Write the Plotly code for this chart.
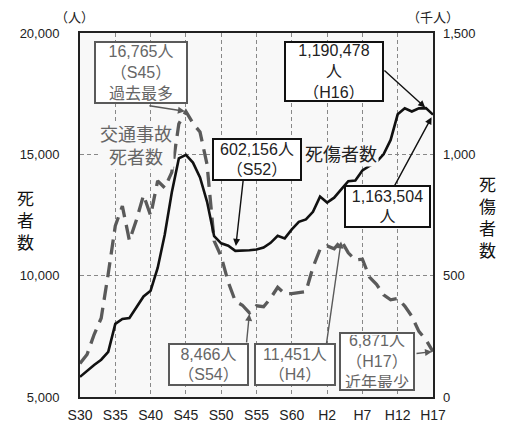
import plotly.graph_objects as go

years = list(range(1955, 2006))
deaths = [6379, 6751, 7575, 8248, 10079, 12055, 12865, 11445, 12301, 13318,
          12484, 13904, 13618, 14256, 16257, 16765, 16278, 15918, 14574, 11432,
          10792, 9734, 8945, 8783, 8466, 8760, 8719, 9073, 9520, 9262,
          9261, 9317, 9347, 10344, 11086, 11227, 11109, 11451, 10942, 10649,
          10679, 9942, 9640, 9211, 9006, 9066, 8747, 8326, 7702, 7358, 6871]
casualties_k = [82.9, 108.8, 132.1, 153.7, 186.0, 301.2, 321.6, 325.3, 371.4, 414.4,
                438.2, 531.7, 669.0, 842.3, 983.3, 997.9, 966.0, 905.1, 804.5, 662.9,
                633.3, 623.7, 602.156, 602.9, 604.7, 607.5, 616.1, 635.3, 664.3, 653.6,
                690.6, 721.6, 731.5, 763.2, 825.9, 801.5, 821.4, 855.5, 889.6, 892.4,
                933.4, 952.1, 968.6, 999.9, 1059.4, 1164.8, 1189.8, 1176.4, 1189.4, 1190.478, 1163.504]

tick_years = [1955, 1960, 1965, 1970, 1975, 1980, 1985, 1990, 1995, 2000, 2005]
tick_labels = ["S30", "S35", "S40", "S45", "S50", "S55", "S60", "H2", "H7", "H12", "H17"]

FONT = "Liberation Sans, Arial, Noto Sans CJK JP"
GRAY = "#5a5a5a"
TGRAY = "#666666"

fig = go.Figure()
fig.add_trace(go.Scatter(x=years, y=deaths, mode="lines", name="交通事故死者数",
                         line=dict(color=GRAY, width=3.3, dash="15px,8px"), yaxis="y"))
fig.add_trace(go.Scatter(x=years, y=casualties_k, mode="lines", name="死傷者数",
                         line=dict(color="#111111", width=2.6), yaxis="y2"))

anns = []

def box(text, x, y, w, h, color, tcolor):
    anns.append(dict(text=text, xref="paper", yref="paper", x=x, y=y,
                     xanchor="center", yanchor="middle", showarrow=False,
                     width=w, height=h, bgcolor="white", bordercolor=color,
                     borderwidth=2, borderpad=1,
                     font=dict(family=FONT, size=16, color=tcolor)))

def arrow(year, value, yref, ax, ay, color, standoff=0):
    anns.append(dict(text="", xref="x", yref=yref, x=year, y=value,
                     ax=ax, ay=ay, showarrow=True, arrowhead=2, arrowsize=1,
                     arrowwidth=1.4, arrowcolor=color, standoff=standoff))

def idx(y):
    return years.index(y)

# arrows
arrow(1970, deaths[idx(1970)], "y", -38, -6, GRAY, 1)
arrow(1977, casualties_k[idx(1977)], "y2", 8, -72, "#111111", 5)
arrow(2004, casualties_k[idx(2004)], "y2", -43, -39, "#111111", 1)
arrow(2005, casualties_k[idx(2005)], "y2", -40, 74, "#111111", 3)
arrow(1979, deaths[idx(1979)], "y", -3, 31, GRAY, 1)
arrow(1992, deaths[idx(1992)], "y", -15, 105, GRAY, 1)
arrow(2005, deaths[idx(2005)], "y", -18, 2, GRAY, 1)

# boxes
box("16,765人<br>（S45）<br>過去最多", 0.1728, 0.8905, 88, 57, GRAY, TGRAY)
box("602,156人<br>（S52）", 0.5014, 0.6527, 84, 37, "#111111", "#222222")
box("1,190,478<br>人<br>（H16）", 0.7195, 0.8932, 94, 55, "#111111", "#222222")
box("1,163,504<br>人", 0.8711, 0.5230, 81, 37, "#111111", "#222222")
box("8,466人<br>（S54）", 0.3640, 0.0905, 75, 37, GRAY, TGRAY)
box("11,451人<br>（H4）", 0.6091, 0.0905, 76, 37, GRAY, TGRAY)
box("6,871人<br>（H17）<br>近年最少", 0.8414, 0.0986, 70, 53, GRAY, TGRAY)

# series labels
anns.append(dict(text="交通事故<br>死者数", xref="paper", yref="paper", x=0.1586, y=0.6892,
                 xanchor="center", yanchor="middle", showarrow=False, bgcolor="#f8f8f8",
                 font=dict(family=FONT, size=18, color=TGRAY)))
anns.append(dict(text="死傷者数", xref="paper", yref="paper", x=0.7380, y=0.6649,
                 xanchor="center", yanchor="middle", showarrow=False, bgcolor="#f8f8f8",
                 font=dict(family=FONT, size=18, color="#222222")))

# units and axis titles
anns.append(dict(text="（人）", xref="paper", yref="paper", x=-0.0142, y=1.0432,
                 xanchor="center", yanchor="middle", showarrow=False,
                 font=dict(family=FONT, size=13, color="#222222")))
anns.append(dict(text="（千人）", xref="paper", yref="paper", x=1.0, y=1.0432,
                 xanchor="center", yanchor="middle", showarrow=False,
                 font=dict(family=FONT, size=13, color="#222222")))
anns.append(dict(text="死<br>者<br>数", xref="paper", yref="paper", x=-0.1558, y=0.4811,
                 xanchor="center", yanchor="middle", showarrow=False,
                 font=dict(family=FONT, size=17, color="#111111")))
anns.append(dict(text="死<br>傷<br>者<br>数", xref="paper", yref="paper", x=1.153, y=0.4892,
                 xanchor="center", yanchor="middle", showarrow=False,
                 font=dict(family=FONT, size=17, color="#111111")))

# the page body adds an 8px offset, so the figure is sized to compensate
fig.update_layout(
    width=497, height=427,
    margin=dict(l=72, r=72, t=25, b=32),
    paper_bgcolor="white", plot_bgcolor="#f8f8f8",
    showlegend=False,
    font=dict(family=FONT, size=13, color="#222222"),
    xaxis=dict(range=[1955, 2005], tickvals=tick_years, ticktext=tick_labels,
               showgrid=True, gridcolor="#888888", griddash="4px,3px", gridwidth=1,
               showline=True, linecolor="#222222", linewidth=2, mirror=True,
               ticks="", ticklabelstandoff=4, zeroline=False,
               tickfont=dict(family=FONT, size=14, color="#222222")),
    yaxis=dict(range=[5000, 20000], tickvals=[5000, 10000, 15000, 20000],
               ticktext=["5,000", "10,000", "15,000", "20,000"],
               showgrid=True, gridcolor="#888888", griddash="4px,3px", gridwidth=1,
               showline=True, linecolor="#222222", linewidth=2, mirror=True,
               ticks="", ticklabelstandoff=16, zeroline=False,
               tickfont=dict(family=FONT, size=13, color="#222222")),
    yaxis2=dict(range=[0, 1500], tickvals=[0, 500, 1000, 1500],
                ticktext=["0", "500", "1,000", "1,500"],
                overlaying="y", side="right", showgrid=False,
                showline=False, ticks="", ticklabelstandoff=9, zeroline=False,
                tickfont=dict(family=FONT, size=13, color="#222222")),
    annotations=anns,
)

fig.write_html("out.html")
